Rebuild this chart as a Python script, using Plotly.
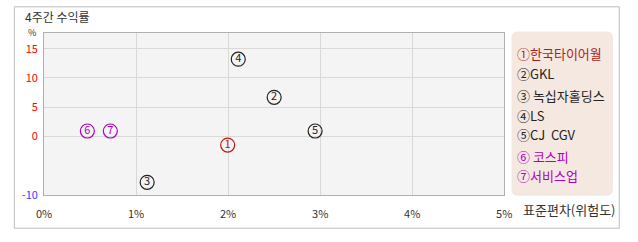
import plotly.graph_objects as go

W, H = 638, 242
names = ["한국타이어월", "GKL", " 녹십자홀딩스", "LS", "CJ  CGV", " 코스피", "서비스업"]
marks = ["①", "②", "③", "④", "⑤", "⑥", "⑦"]
digits = ["1", "2", "3", "4", "5", "6", "7"]
risk = [1.995, 2.50, 1.12, 2.11, 2.945, 0.47, 0.72]
ret = [-1.45, 6.7, -7.8, 13.2, 0.95, 0.95, 0.95]
colors = ["#c01818", "#222222", "#222222", "#222222", "#222222", "#b000c0", "#b000c0"]
legend_colors = ["#b01c1c", "#222222", "#222222", "#222222", "#222222", "#b000c0", "#b000c0"]
y_ticks = [15, 10, 5, 0, -10]
y_tick_colors = ["#ff0000", "#ff0000", "#ff0000", "#ff0000", "#3c3cff"]
x_ticks = [0, 1, 2, 3, 4, 5]
x_labels = ["0%", "1%", "2%", "3%", "4%", "5%"]

FONT = "Noto Sans CJK KR"

def px(x):
    return x / W

def py(y):
    return 1 - y / H

fig = go.Figure()
fig.add_trace(go.Scatter(
    x=risk, y=ret, mode="markers+text", text=digits,
    textposition="middle center",
    textfont=dict(family=FONT, size=11, color=colors),
    marker=dict(symbol="circle-open", size=14, color=colors, line=dict(width=1.2, color=colors)),
    hoverinfo="skip", showlegend=False, cliponaxis=False,
))

fig.update_layout(
    width=W, height=H, margin=dict(l=0, r=0, t=0, b=0),
    paper_bgcolor="white", plot_bgcolor="#f4f4f4",
    font=dict(family=FONT, size=11, color="#333"),
    xaxis=dict(domain=[px(37), px(509)], range=[0, 5], tickvals=x_ticks, ticktext=x_labels,
               showgrid=True, gridcolor="#d9d9d9", gridwidth=1, zeroline=False,
               showline=True, linecolor="#b0b0b0", linewidth=1, mirror=True,
               ticks="", ticklabelstandoff=9, tickfont=dict(size=11, color="#333"), fixedrange=True),
    yaxis=dict(domain=[py(201), py(34)], range=[-10, 17.67], tickvals=y_ticks,
               ticktext=[f"<span style='color:{c}'>{v}</span>" for v, c in zip(y_ticks, y_tick_colors)],
               showgrid=True, gridcolor="#d9d9d9", gridwidth=1, zeroline=False,
               showline=True, linecolor="#b0b0b0", linewidth=1, mirror=True,
               ticks="", ticklabelstandoff=3, tickfont=dict(size=11), fixedrange=True),
)

# outer frame
fig.add_shape(type="rect", xref="paper", yref="paper", x0=px(6.5), x1=px(627), y0=py(235), y1=py(7),
              line=dict(color="#bdbdbd", width=1), fillcolor="rgba(0,0,0,0)", layer="below")

# legend box with rounded corners
x0, x1, y0, y1, r = 517, 620, 33, 201, 6
path = (f"M {px(x0+r)},{py(y0)} L {px(x1-r)},{py(y0)} Q {px(x1)},{py(y0)} {px(x1)},{py(y0+r)} "
        f"L {px(x1)},{py(y1-r)} Q {px(x1)},{py(y1)} {px(x1-r)},{py(y1)} "
        f"L {px(x0+r)},{py(y1)} Q {px(x0)},{py(y1)} {px(x0)},{py(y1-r)} "
        f"L {px(x0)},{py(y0+r)} Q {px(x0)},{py(y0)} {px(x0+r)},{py(y0)} Z")
fig.add_shape(type="path", xref="paper", yref="paper", path=path,
              line=dict(color="#f3e7e0", width=1), fillcolor="#f4e8e1")

legend_y = [55, 76, 98, 119, 139, 161, 181]
for m, n, c, ly in zip(marks, names, legend_colors, legend_y):
    fig.add_annotation(xref="paper", yref="paper", x=px(520), y=py(ly), text=f"{m}{n}",
                       showarrow=False, xanchor="left", yanchor="middle",
                       font=dict(family=FONT, size=13, color=c))

fig.add_annotation(xref="paper", yref="paper", x=px(16), y=py(17.5), text="4주간 수익률",
                   showarrow=False, xanchor="left", yanchor="middle", borderpad=0,
                   font=dict(family=FONT, size=12, color="#333"))
fig.add_annotation(xref="paper", yref="paper", x=px(25), y=py(33), text="%",
                   showarrow=False, xanchor="center", yanchor="middle", borderpad=0,
                   font=dict(family=FONT, size=9, color="#333"))
fig.add_annotation(xref="paper", yref="paper", x=px(526), y=py(216), text="표준편차(위험도)",
                   showarrow=False, xanchor="left", yanchor="middle",
                   font=dict(family=FONT, size=13, color="#333"))

fig.write_html("out.html")
